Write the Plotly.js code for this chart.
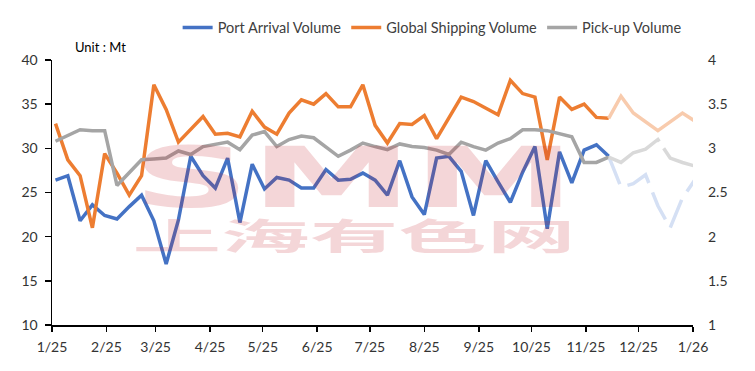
<!DOCTYPE html>
<html>
<head>
<meta charset="utf-8">
<script src="https://cdn.plot.ly/plotly-3.0.1.min.js"></script>
<style>
  html, body { margin: 0; padding: 0; background: #fff; }
  #chart { width: 755px; height: 371px; }
</style>
</head>
<body>
<div id="chart"></div>
<script>
// Weekly dates (actual)
const datesActual = [
  "2025-01-03","2025-01-10","2025-01-17","2025-01-24","2025-01-31",
  "2025-02-07","2025-02-14","2025-02-21","2025-02-28",
  "2025-03-07","2025-03-14","2025-03-21","2025-03-28",
  "2025-04-04","2025-04-11","2025-04-18","2025-04-25",
  "2025-05-02","2025-05-09","2025-05-16","2025-05-23","2025-05-30",
  "2025-06-06","2025-06-13","2025-06-20","2025-06-27",
  "2025-07-04","2025-07-11","2025-07-18","2025-07-25",
  "2025-08-01","2025-08-08","2025-08-15","2025-08-22","2025-08-29",
  "2025-09-05","2025-09-12","2025-09-19","2025-09-26",
  "2025-10-03","2025-10-10","2025-10-17","2025-10-24","2025-10-31",
  "2025-11-07","2025-11-14"
];
// Forecast dates (start at last actual week)
const datesForecast = [
  "2025-11-14","2025-11-21","2025-11-28","2025-12-05","2025-12-12",
  "2025-12-19","2025-12-26","2026-01-02"
];

// Port Arrival Volume (Mt, left axis)
const portArrival = [
  26.4, 26.9, 21.8, 23.6, 22.4, 22.0, 23.4, 24.7, 21.8, 16.9,
  21.9, 29.1, 26.9, 25.5, 28.9, 21.6, 28.2, 25.4, 26.7, 26.4,
  25.5, 25.5, 27.6, 26.4, 26.5, 27.2, 26.4, 24.7, 28.6, 24.5,
  22.5, 28.9, 29.1, 27.4, 22.4, 28.6, 26.2, 23.9, 27.3, 30.2,
  20.9, 29.6, 26.1, 29.8, 30.4, 29.1
];
const portArrivalFc = [29.1, 25.6, 26.0, 27.0, 23.5, 21.0, 24.4, 26.4];

// Global Shipping Volume (Mt, left axis)
const globalShipping = [
  32.8, 28.7, 26.9, 21.0, 29.4, 27.2, 24.7, 26.9, 37.2, 34.4,
  30.7, 32.1, 33.6, 31.6, 31.7, 31.3, 34.2, 32.4, 31.6, 34.0,
  35.5, 35.0, 36.2, 34.7, 34.7, 37.2, 32.6, 30.6, 32.8, 32.7,
  33.7, 31.1, 33.4, 35.8, 35.3, 34.6, 33.8, 37.7, 36.2, 35.8,
  28.7, 35.8, 34.4, 35.0, 33.5, 33.4
];
const globalShippingFc = [33.4, 35.9, 34.0, 33.0, 32.0, 33.0, 34.0, 33.1];

// Pick-up Volume (right axis)
const pickUp = [
  3.08, 3.14, 3.21, 3.20, 3.20, 2.58, 2.72, 2.87, 2.88, 2.89,
  2.97, 2.93, 3.02, 3.04, 3.07, 2.985, 3.15, 3.19, 3.02, 3.10,
  3.14, 3.12, 3.02, 2.91, 2.98, 3.06, 3.02, 2.985, 3.05, 3.02,
  3.01, 2.98, 2.93, 3.07, 3.02, 2.98, 3.06, 3.11, 3.21, 3.21,
  3.20, 3.16, 3.13, 2.84, 2.84, 2.90
];
const pickUpFc = [2.90, 2.84, 2.95, 2.99, 3.10, 2.89, 2.84, 2.80];

const seriesNames = ["Port Arrival Volume", "Global Shipping Volume", "Pick-up Volume"];
const unitLabel = "Unit : Mt";
const watermarkLatin = "SMM";
const watermarkCJK = "上海有色网";

const FONT = "Lato, 'Liberation Sans', sans-serif";
const LW = 3.5;
const WM_COLOR = "rgba(195,25,40,0.18)";

const traces = [
  { x: datesActual, y: portArrival, name: seriesNames[0], type: "scatter", mode: "lines",
    line: { color: "#4472C4", width: LW }, yaxis: "y" },
  { x: datesActual, y: globalShipping, name: seriesNames[1], type: "scatter", mode: "lines",
    line: { color: "#ED7D31", width: LW }, yaxis: "y" },
  { x: datesActual, y: pickUp, name: seriesNames[2], type: "scatter", mode: "lines",
    line: { color: "#A5A5A5", width: LW }, yaxis: "y2" },
  { x: datesForecast, y: portArrivalFc, showlegend: false, type: "scatter", mode: "lines",
    line: { color: "#D5E0F4", width: LW, dash: "30px,10px" }, yaxis: "y" },
  { x: datesForecast, y: globalShippingFc, showlegend: false, type: "scatter", mode: "lines",
    line: { color: "#F8CBAD", width: LW }, yaxis: "y" },
  { x: datesForecast, y: pickUpFc, showlegend: false, type: "scatter", mode: "lines",
    line: { color: "#D9D9D9", width: LW, dash: "60px,8px" }, yaxis: "y2" }
];

const layout = {
  width: 755, height: 371,
  margin: { l: 52, r: 62, t: 55, b: 46 },
  paper_bgcolor: "#fff", plot_bgcolor: "#fff",
  font: { family: FONT, size: 14, color: "#333" },
  showlegend: true,
  legend: {
    orientation: "h", x: 0.196, xanchor: "left", y: 1.122, yanchor: "middle",
    font: { family: FONT, size: 14.5, color: "#404040" },
    bgcolor: "rgba(0,0,0,0)", traceorder: "normal"
  },
  xaxis: {
    type: "date",
    range: ["2025-01-01", "2026-01-01"],
    tick0: "2025-01-01", dtick: "M1", tickformat: "%-m/%y",
    showgrid: false, zeroline: false,
    showline: true, linecolor: "#000", linewidth: 1.5,
    ticks: "outside", ticklen: 5, tickcolor: "#000", tickwidth: 1.5,
    ticklabelstandoff: 4,
    tickfont: { family: FONT, size: 14, color: "#333" }
  },
  yaxis: {
    range: [10, 40], dtick: 5,
    showgrid: false, zeroline: false,
    showline: true, linecolor: "#000", linewidth: 1.5,
    ticks: "outside", ticklen: 6, tickcolor: "#000", tickwidth: 1.5,
    ticklabelstandoff: 4,
    tickfont: { family: FONT, size: 14, color: "#333" }
  },
  yaxis2: {
    range: [1, 4], dtick: 0.5, overlaying: "y", side: "right",
    showgrid: false, zeroline: false, showline: false, ticks: "",
    ticklabelstandoff: 14,
    tickfont: { family: FONT, size: 14, color: "#333" }
  },
  annotations: [
    { text: unitLabel, xref: "paper", yref: "paper", x: 0.032, y: 1.048,
      xanchor: "left", yanchor: "middle", showarrow: false,
      font: { family: FONT, size: 13, color: "#000" } },
    { text: watermarkLatin + "<br>" + watermarkCJK, xref: "paper", yref: "paper",
      x: (354 - 52) / 641, y: (325 - 200) / 270, xanchor: "center", yanchor: "middle",
      showarrow: false,
      font: { family: "'DejaVu Sans', 'Noto Sans CJK SC', sans-serif", size: 84, weight: "bold", color: WM_COLOR } }
  ]
};

const gd = document.getElementById("chart");
Plotly.newPlot(gd, traces, layout, { displayModeBar: false, staticPlot: true }).then(function () {
  const texts = gd.querySelectorAll(".annotation-text");
  texts.forEach(function (t) {
    const lines = t.querySelectorAll("tspan.line");
    if (lines.length !== 2) return;
    // stretch both watermark lines to the same width
    lines.forEach(function (ln) {
      ln.setAttribute("textLength", "443");
      ln.setAttribute("lengthAdjust", "spacingAndGlyphs");
    });
    lines[1].style.fontSize = "36px";
    lines[1].setAttribute("dy", "43px");
    // place SMM baseline at y=207 (cap top ~147)
    const r = lines[0].getBoundingClientRect();
    const baseline = r.top + 84 * 0.928;
    const shift = 207 - baseline;
    const prev = t.getAttribute("transform") || "";
    t.setAttribute("transform", prev + " translate(0," + shift.toFixed(1) + ")");
  });
});
</script>
</body>
</html>
